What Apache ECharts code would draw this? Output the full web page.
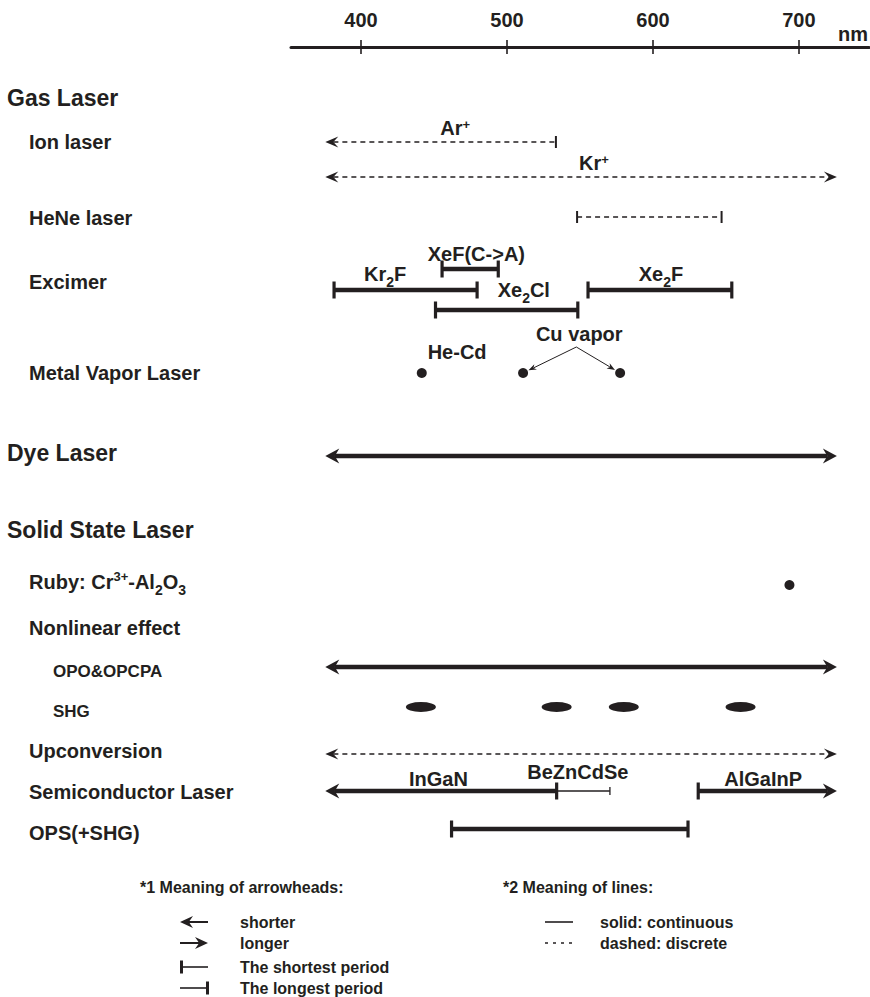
<!DOCTYPE html>
<html>
<head>
<meta charset="utf-8">
<script src="https://cdn.jsdelivr.net/npm/echarts@6/dist/echarts.min.js"></script>
<style>html,body{margin:0;padding:0;background:#fff}#c{width:870px;height:997px}</style>
</head>
<body>
<div id="c"></div>
<script>
// ================= DATA =================
const axisTicks = [400, 500, 600, 700];
const axisUnit = 'nm';

// left-hand row titles (level 0 = family, 1 = type, 2 = sub-type)
const rowLabels = ['Gas Laser', 'Ion laser', 'HeNe laser', 'Excimer', 'Metal Vapor Laser',
  'Dye Laser', 'Solid State Laser', '{m|Ruby: Cr}{sup|3+}{m|-Al}{sub|2}{m|O}{sub|3}',
  'Nonlinear effect', 'OPO&OPCPA', 'SHG', 'Upconversion', 'Semiconductor Laser', 'OPS(+SHG)'];
const rowLevel = [0, 1, 1, 1, 1, 0, 0, 1, 1, 2, 2, 1, 1, 1];

// wavelength ranges (nm)
const rangeNames = ['Ar+', 'Kr+', 'HeNe', 'XeF(C->A)', 'Kr2F', 'Xe2Cl', 'Xe2F', 'Dye',
  'OPO&OPCPA', 'Upconversion', 'InGaN', 'BeZnCdSe', 'AlGaInP', 'OPS(+SHG)'];
const rangeLane = ['ion1', 'ion2', 'hene', 'xef', 'kr2f', 'xe2cl', 'kr2f', 'dye',
  'opo', 'upconv', 'semi', 'semi', 'semi', 'ops'];
const rangeStart = [375.5, 375.5, 548, 455.5, 381.5, 451, 555.5, 375.5, 375.5, 375.5, 375.5, 534, 631, 462];
const rangeEnd   = [533.5, 726, 647, 494, 479.5, 548.5, 654, 726, 726, 726, 534, 570.5, 726, 624];
// end meanings: shorter / longer (continues), shortest / longest (period limit)
const rangeStartMark = ['shorter', 'shorter', 'shortest', 'shortest', 'shortest', 'shortest', 'shortest',
  'shorter', 'shorter', 'shorter', 'shorter', 'none', 'shortest', 'shortest'];
const rangeEndMark = ['longest', 'longer', 'longest', 'longest', 'longest', 'longest', 'longest',
  'longer', 'longer', 'longer', 'longest', 'longest', 'longer', 'longest'];
const rangeType = ['discrete', 'discrete', 'discrete', 'continuous', 'continuous', 'continuous', 'continuous',
  'continuous', 'continuous', 'discrete', 'continuous', 'minor', 'continuous', 'continuous'];
const rangeLabelText = ['{m|Ar}{sup|+}', '{m|Kr}{sup|+}', '', '{m|XeF(C->A)}', '{m|Kr}{sub|2}{m|F}',
  '{m|Xe}{sub|2}{m|Cl}', '{m|Xe}{sub|2}{m|F}', '', '', '', '{m|InGaN}', '{m|BeZnCdSe}', '{m|AlGaInP}', ''];
const rangeLabelNm = [464.5, 559.5, null, 479, 416.5, 511.5, 605.5, null, null, null, 453, 548.5, 675.5, null];

// single lines (nm)
const pointNames = ['He-Cd', 'Cu vapor', 'Cu vapor', 'Ruby'];
const pointNm = [441.6, 511, 577.5, 693.5];
const pointLane = ['metal', 'metal', 'metal', 'ruby'];
const pointLabelText = ['He-Cd', 'Cu vapor'];
const pointLabelNm = [465.8, 549.5];

// SHG lines (nm)
const shgNm = [441, 534, 580, 660];

// legend
const legendTitles = ['*1 Meaning of arrowheads:', '*2 Meaning of lines:'];
const arrowLegend = ['shorter', 'longer', 'The shortest period', 'The longest period'];
const lineLegend = ['solid: continuous', 'dashed: discrete'];

// ================= LAYOUT / STYLE =================
const INK = '#231f20';
const FONT = '"Liberation Sans", Arial, Helvetica, sans-serif';
const LANE_Y = {ion1: 142, ion2: 177, hene: 217, xef: 269, kr2f: 290, xe2cl: 310, metal: 373,
  dye: 456, ruby: 585, opo: 667, shg: 707, upconv: 754, semi: 791, ops: 829};
const ROW_Y = [98, 142, 218, 282, 373, 453, 530, 582, 628, 671, 711, 751, 792, 833];
const ROW_X = [7, 29, 53];
const ROW_FS = [23, 20, 17];
const LABEL_RISE = [14, 14, 0, 15, 16, 20, 16, 0, 0, 0, 12, 19, 12, 0];
const POINT_LABEL_RISE = [21, 39];
const CU_ARROW_FROM = {nm: 547.5, rise: 26};
const STYLE = {
  discrete:   {width: 1.6, dash: [5, 4], head: [13, 5.5, 0.62], tick: [2, 12]},
  continuous: {width: 4.5, dash: null,   head: [14, 7.5, 0.68], tick: [3.2, 17]},
  minor:      {width: 1.4, dash: null,   head: [10, 4, 0.68],   tick: [1.3, 8]}
};
const RICH = {
  m:   {fontSize: 20, fontWeight: 'bold', fontFamily: FONT, fill: INK, padding: [4, 0, 0, 0], verticalAlign: 'top'},
  sup: {fontSize: 13, fontWeight: 'bold', fontFamily: FONT, fill: INK, padding: [4, 0, 0, 0], verticalAlign: 'top'},
  sub: {fontSize: 14, fontWeight: 'bold', fontFamily: FONT, fill: INK, padding: [15, 0, 0, 0], verticalAlign: 'top'}
};
const RICH_RUBY = {
  m:   RICH.m,
  sup: Object.assign({}, RICH.sup, {padding: [1.5, 0, 0, 0]}),
  sub: RICH.sub
};

function head(tipX, y, dir, s) {
  const L = s.head[0], h = s.head[1], n = s.head[2];
  const b = tipX - dir * L;
  return {type: 'polygon', shape: {points: [[tipX, y], [b, y - h], [tipX - dir * L * n, y], [b, y + h]]},
    style: {fill: INK, stroke: null}};
}
function tick(x, y, s) {
  const w = s.tick[0], h = s.tick[1];
  return {type: 'rect', shape: {x: x - w / 2, y: y - h / 2, width: w, height: h}, style: {fill: INK, stroke: null}};
}

function renderRange(params, api) {
  const i = params.dataIndex;
  const s = STYLE[rangeType[i]];
  const a = api.coord([api.value(0), api.value(2)]);
  const b = api.coord([api.value(1), api.value(2)]);
  const y = a[1], x0 = a[0], x1 = b[0];
  const sm = rangeStartMark[i], em = rangeEndMark[i];
  const lx0 = sm === 'shorter' ? x0 + s.head[0] * s.head[2] : x0;
  const lx1 = em === 'longer' ? x1 - s.head[0] * s.head[2] : x1;
  const kids = [{type: 'line', shape: {x1: lx0, y1: y, x2: lx1, y2: y},
    style: {stroke: INK, lineWidth: s.width, lineDash: s.dash, fill: null}}];
  if (sm === 'shorter') kids.push(head(x0, y, -1, s));
  if (em === 'longer') kids.push(head(x1, y, 1, s));
  if (sm === 'shortest') kids.push(tick(x0, y, s));
  if (em === 'longest') kids.push(tick(x1, y, s));
  if (rangeLabelText[i]) {
    const p = api.coord([rangeLabelNm[i], api.value(2)]);
    kids.push({type: 'text', x: p[0], y: p[1] - LABEL_RISE[i] - 14,
      style: {text: rangeLabelText[i], align: 'center', verticalAlign: 'top', rich: RICH, fill: INK}});
  }
  return {type: 'group', children: kids};
}

function renderPointNotes(params, api) {
  const i = params.dataIndex;
  const kids = [];
  const laneY = LANE_Y.metal;
  const lp = api.coord([pointLabelNm[i], laneY]);
  kids.push({type: 'text', x: lp[0], y: lp[1] - POINT_LABEL_RISE[i],
    style: {text: pointLabelText[i], align: 'center', verticalAlign: 'middle', fill: INK,
      fontSize: 20, fontWeight: 'bold', fontFamily: FONT}});
  if (pointLabelText[i] === 'Cu vapor') {
    const from = api.coord([CU_ARROW_FROM.nm, laneY]);
    from[1] -= CU_ARROW_FROM.rise;
    pointNames.forEach((n, k) => {
      if (n !== 'Cu vapor') return;
      const to = api.coord([pointNm[k], LANE_Y[pointLane[k]]]);
      const dx = to[0] - from[0], dy = to[1] - from[1];
      const len = Math.sqrt(dx * dx + dy * dy);
      const ux = dx / len, uy = dy / len;
      const tip = [to[0] - ux * 6, to[1] - uy * 6];
      const L = 8, h = 3;
      const base = [tip[0] - ux * L, tip[1] - uy * L];
      kids.push({type: 'line', shape: {x1: from[0], y1: from[1], x2: base[0] + ux * 2, y2: base[1] + uy * 2},
        style: {stroke: INK, lineWidth: 1, fill: null}});
      kids.push({type: 'polygon', shape: {points: [tip, [base[0] - uy * h, base[1] + ux * h],
        [tip[0] - ux * L * 0.7, tip[1] - uy * L * 0.7], [base[0] + uy * h, base[1] - ux * h]]},
        style: {fill: INK, stroke: null}});
    });
  }
  return {type: 'group', children: kids};
}

// ---- graphic: row labels, axis unit, legend ----
const gfx = [];
function txt(x, y, text, size, extra) {
  return Object.assign({type: 'text', x: x, y: y, silent: true,
    style: Object.assign({text: text, fill: INK, fontSize: size, fontWeight: 'bold', fontFamily: FONT,
      align: 'left', verticalAlign: 'middle'}, extra || {})});
}
rowLabels.forEach((t, i) => {
  if (t.indexOf('{') >= 0) {
    gfx.push(txt(ROW_X[rowLevel[i]], ROW_Y[i] - 14, t, ROW_FS[rowLevel[i]], {verticalAlign: 'top', rich: RICH_RUBY}));
  } else {
    gfx.push(txt(ROW_X[rowLevel[i]], ROW_Y[i], t, ROW_FS[rowLevel[i]]));
  }
});
gfx.push(txt(868, 34, axisUnit, 20, {align: 'right'}));
// legend
const LEG_Y = [922, 943, 967, 988];
gfx.push(txt(140, 887, legendTitles[0], 16));
gfx.push(txt(503, 887, legendTitles[1], 16));
arrowLegend.forEach((t, i) => gfx.push(txt(240, LEG_Y[i], t, 16)));
lineLegend.forEach((t, i) => gfx.push(txt(600, LEG_Y[i], t, 16)));
const legHead = {head: [13, 6, 0.68]};
// shorter
gfx.push({type: 'line', silent: true, shape: {x1: 188, y1: LEG_Y[0], x2: 208, y2: LEG_Y[0]}, style: {stroke: INK, lineWidth: 2}});
gfx.push(Object.assign({silent: true}, head(180, LEG_Y[0], -1, legHead)));
// longer
gfx.push({type: 'line', silent: true, shape: {x1: 180, y1: LEG_Y[1], x2: 200, y2: LEG_Y[1]}, style: {stroke: INK, lineWidth: 2}});
gfx.push(Object.assign({silent: true}, head(208, LEG_Y[1], 1, legHead)));
// shortest
gfx.push({type: 'line', silent: true, shape: {x1: 181, y1: LEG_Y[2], x2: 208, y2: LEG_Y[2]}, style: {stroke: INK, lineWidth: 1.6}});
gfx.push(Object.assign({silent: true}, tick(181.5, LEG_Y[2], {tick: [3, 13]})));
// longest
gfx.push({type: 'line', silent: true, shape: {x1: 180, y1: LEG_Y[3], x2: 207, y2: LEG_Y[3]}, style: {stroke: INK, lineWidth: 1.6}});
gfx.push(Object.assign({silent: true}, tick(207.5, LEG_Y[3], {tick: [3, 13]})));
// line meanings
gfx.push({type: 'line', silent: true, shape: {x1: 545, y1: LEG_Y[0], x2: 573, y2: LEG_Y[0]}, style: {stroke: INK, lineWidth: 1.6}});
gfx.push({type: 'line', silent: true, shape: {x1: 545, y1: LEG_Y[1], x2: 573, y2: LEG_Y[1]}, style: {stroke: INK, lineWidth: 1.4, lineDash: [3, 5]}});

const chart = echarts.init(document.getElementById('c'), null, {renderer: 'svg', width: 870, height: 997});
chart.setOption({
  backgroundColor: '#ffffff',
  animation: false,
  grid: {left: 291, right: 1, top: 47, bottom: 0, containLabel: false},
  xAxis: [{
    type: 'value', position: 'top', min: 352, max: 748,
    axisLine: {show: true, lineStyle: {color: INK, width: 3}},
    axisTick: {show: true, inside: false, length: 7, lineStyle: {color: INK, width: 1.6}, customValues: axisTicks},
    axisLabel: {show: true, margin: 17, customValues: axisTicks, fontSize: 20, fontWeight: 'bold', color: INK, fontFamily: FONT},
    splitLine: {show: false}
  }, {
    type: 'value', position: 'top', min: 352, max: 748,
    axisLine: {show: false},
    axisTick: {show: true, inside: true, length: 7, lineStyle: {color: INK, width: 1.6}, customValues: axisTicks},
    axisLabel: {show: false},
    splitLine: {show: false}
  }],
  yAxis: {type: 'value', inverse: true, min: 47, max: 997, show: false},
  graphic: {elements: gfx},
  series: [{
    type: 'custom', name: 'ranges', silent: true, clip: false,
    data: rangeNames.map((n, i) => [rangeStart[i], rangeEnd[i], LANE_Y[rangeLane[i]]]),
    encode: {x: [0, 1], y: 2},
    renderItem: renderRange
  }, {
    type: 'scatter', name: 'lines', silent: true,
    symbol: 'circle', symbolSize: 10,
    itemStyle: {color: INK, opacity: 1, borderWidth: 0},
    data: pointNm.map((v, i) => [v, LANE_Y[pointLane[i]]])
  }, {
    type: 'scatter', name: 'SHG', silent: true,
    symbol: 'path://M0,50 A50,50 0 1,1 100,50 A50,50 0 1,1 0,50 Z', symbolSize: [30, 10],
    itemStyle: {color: INK, opacity: 1, borderWidth: 0},
    data: shgNm.map(v => [v, LANE_Y.shg])
  }, {
    type: 'custom', name: 'notes', silent: true, clip: false,
    data: pointLabelNm.map(v => [v, LANE_Y.metal]),
    encode: {x: 0, y: 1},
    renderItem: renderPointNotes
  }]
});
</script>
</body>
</html>
